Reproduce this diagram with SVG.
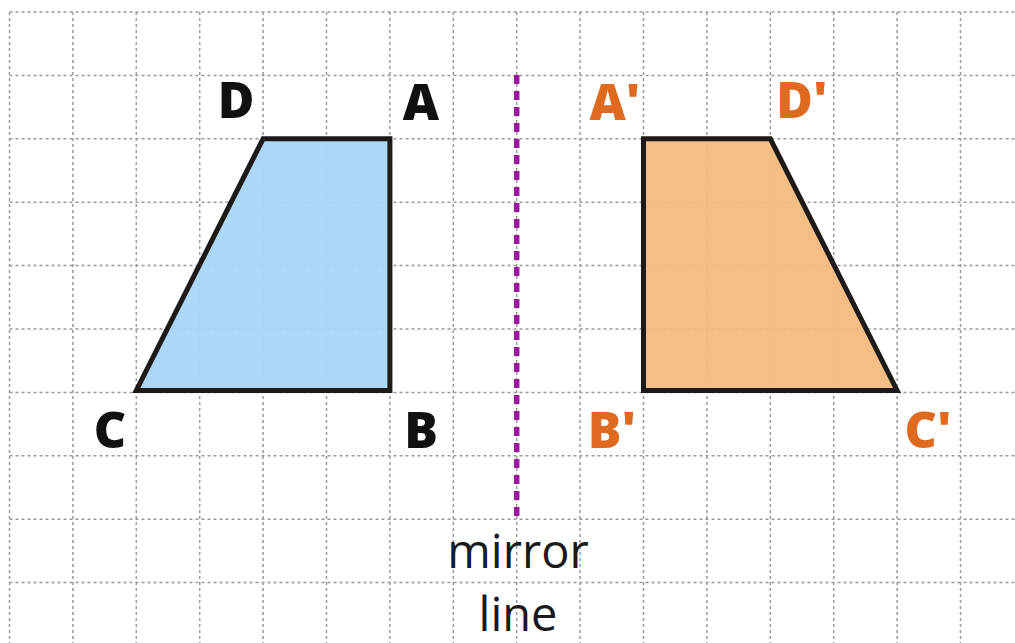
<svg xmlns="http://www.w3.org/2000/svg" width="1015" height="643" viewBox="0 0 1015 643">
<style>
.grid line{stroke:#9a9a9a;stroke-width:1.5;stroke-dasharray:3 3;}
.shape{stroke:#1e1a18;stroke-width:5;stroke-linejoin:miter;}
.lbl{font-family:"Open Sans","Liberation Sans",sans-serif;font-weight:800;font-size:50px;text-anchor:middle;}
.blk{fill:#111;}
.org{fill:#dd6a1f;}
.cap{font-family:"Open Sans","Liberation Sans",sans-serif;font-size:47px;fill:#1a1a1a;text-anchor:middle;}
</style>
<rect width="1015" height="643" fill="#fff"/>
<g class="grid" id="grid">
<line x1="9.5" y1="12" x2="9.5" y2="643"/>
<line x1="72.9" y1="12" x2="72.9" y2="643"/>
<line x1="136.3" y1="12" x2="136.3" y2="643"/>
<line x1="199.7" y1="12" x2="199.7" y2="643"/>
<line x1="263.1" y1="12" x2="263.1" y2="643"/>
<line x1="326.5" y1="12" x2="326.5" y2="643"/>
<line x1="389.9" y1="12" x2="389.9" y2="643"/>
<line x1="453.3" y1="12" x2="453.3" y2="643"/>
<line x1="516.7" y1="12" x2="516.7" y2="643"/>
<line x1="580.1" y1="12" x2="580.1" y2="643"/>
<line x1="643.5" y1="12" x2="643.5" y2="643"/>
<line x1="706.9" y1="12" x2="706.9" y2="643"/>
<line x1="770.3" y1="12" x2="770.3" y2="643"/>
<line x1="833.7" y1="12" x2="833.7" y2="643"/>
<line x1="897.1" y1="12" x2="897.1" y2="643"/>
<line x1="960.5" y1="12" x2="960.5" y2="643"/>
<line x1="9.5" y1="12" x2="1015" y2="12"/>
<line x1="9.5" y1="75.4" x2="1015" y2="75.4"/>
<line x1="9.5" y1="138.8" x2="1015" y2="138.8"/>
<line x1="9.5" y1="202.2" x2="1015" y2="202.2"/>
<line x1="9.5" y1="265.6" x2="1015" y2="265.6"/>
<line x1="9.5" y1="329" x2="1015" y2="329"/>
<line x1="9.5" y1="392.4" x2="1015" y2="392.4"/>
<line x1="9.5" y1="455.8" x2="1015" y2="455.8"/>
<line x1="9.5" y1="519.2" x2="1015" y2="519.2"/>
<line x1="9.5" y1="582.6" x2="1015" y2="582.6"/>
</g>
<g id="mirror-line">
<line x1="516.7" y1="75" x2="516.7" y2="518" stroke="#a0179f" stroke-width="5.5" stroke-dasharray="9 7"/>
</g>
<g id="original">
<polygon class="shape" points="263.1,138.8 389.9,138.8 389.9,390.4 136.3,390.4" fill="#a9d5f5" fill-opacity="0.95"/>
<text class="lbl blk" x="236" y="118">D</text>
<text class="lbl blk" x="421" y="120">A</text>
<text class="lbl blk" x="110" y="448">C</text>
<text class="lbl blk" x="421" y="448">B</text>
</g>
<g id="image">
<polygon class="shape" points="643.5,138.8 770.3,138.8 897.1,390.4 643.5,390.4" fill="#f3ba80" fill-opacity="0.95"/>
<text class="lbl org" x="615" y="120">A'</text>
<text class="lbl org" x="802" y="118">D'</text>
<text class="lbl org" x="612" y="448">B'</text>
<text class="lbl org" x="928" y="448">C'</text>
</g>
<g id="caption">
<text class="cap" x="518" y="568">mirror</text>
<text class="cap" x="518" y="631">line</text>
</g>
</svg>
